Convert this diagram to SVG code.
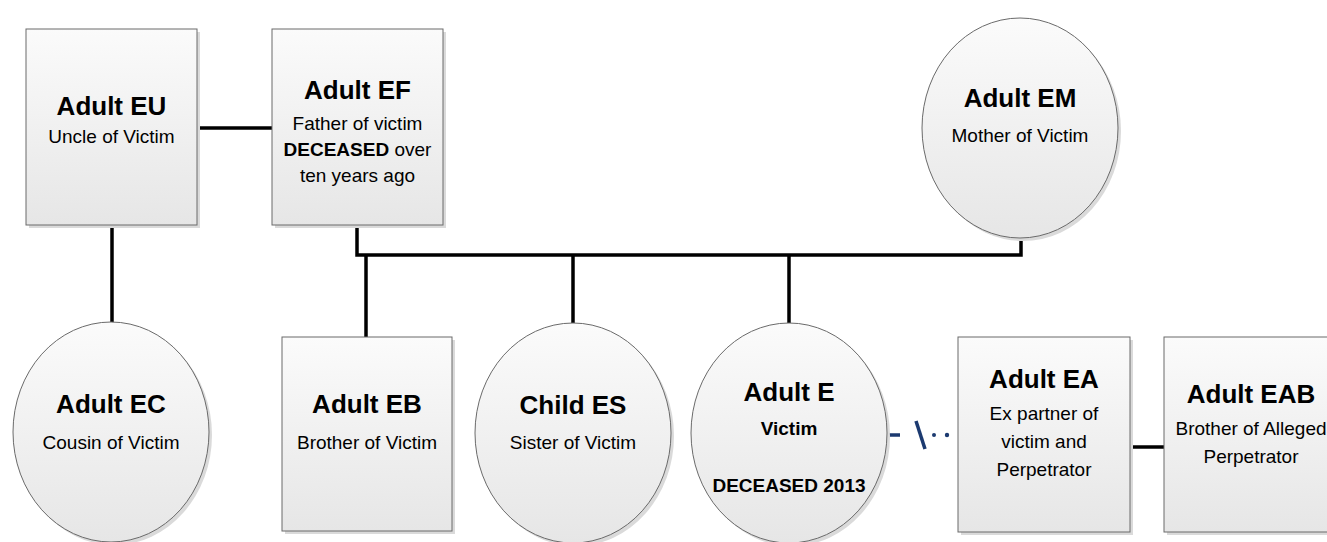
<svg xmlns="http://www.w3.org/2000/svg" width="1327" height="542" viewBox="0 0 1327 542">
<style>
.box{fill:url(#g);stroke:#6a6a6a;stroke-width:1}
.sh{fill:#dadada}
.t{font-family:"Liberation Sans",Arial,sans-serif;font-weight:bold;font-size:26px;fill:#000;text-anchor:middle}
.s{font-family:"Liberation Sans",Arial,sans-serif;font-size:19px;fill:#000;text-anchor:middle}
.b{font-weight:bold}
.c{stroke:#000;stroke-width:3.5;fill:none}
.d{stroke:#1c3a70;stroke-width:3.5;fill:none}
</style>
<defs>
<linearGradient id="g" x1="0" y1="0" x2="0" y2="1">
<stop offset="0" stop-color="#fbfbfb"/>
<stop offset="1" stop-color="#e6e6e6"/>
</linearGradient>
</defs>
<rect width="1327" height="542" fill="#fff"/>
<g id="connectors">
<path class="c" d="M197,128 H272"/>
<path class="c" d="M112,225 V323"/>
<path class="c" d="M357,225 V255 H1021 V238"/>
<path class="c" d="M366,255 V337"/>
<path class="c" d="M573,255 V323"/>
<path class="c" d="M789,255 V323"/>
<path class="c" d="M1130,447 H1164"/>
<g id="dashed">
<path class="d" d="M887,435 H900"/>
<path class="d" stroke-width="2.5" d="M916,421 L925,449"/>
<circle cx="934" cy="435" r="2" fill="#1c3a70"/>
<circle cx="947" cy="435" r="2.2" fill="#1c3a70"/>
</g>
</g>
<g id="adult-eu">
<rect class="sh" x="29" y="32" width="171" height="196"/>
<rect class="box" x="26" y="29" width="171" height="196"/>
<text class="t" x="111.5" y="115">Adult EU</text>
<text class="s" x="111.5" y="143">Uncle of Victim</text>
</g>
<g id="adult-ef">
<rect class="sh" x="275" y="32" width="171" height="196"/>
<rect class="box" x="272" y="29" width="171" height="196"/>
<text class="t" x="357.5" y="99">Adult EF</text>
<text class="s" x="357.5" y="130">Father of victim</text>
<text class="s" x="357.5" y="156"><tspan class="b">DECEASED</tspan> over</text>
<text class="s" x="357.5" y="182">ten years ago</text>
</g>
<g id="adult-em">
<ellipse class="sh" cx="1023" cy="131" rx="98" ry="110"/>
<ellipse class="box" cx="1020" cy="128" rx="98" ry="110"/>
<text class="t" x="1020" y="107">Adult EM</text>
<text class="s" x="1020" y="142">Mother of Victim</text>
</g>
<g id="adult-ec">
<ellipse class="sh" cx="114" cy="435" rx="98" ry="110"/>
<ellipse class="box" cx="111" cy="432" rx="98" ry="110"/>
<text class="t" x="111" y="413">Adult EC</text>
<text class="s" x="111" y="449">Cousin of Victim</text>
</g>
<g id="adult-eb">
<rect class="sh" x="285" y="340" width="170" height="194"/>
<rect class="box" x="282" y="337" width="170" height="194"/>
<text class="t" x="367" y="413">Adult EB</text>
<text class="s" x="367" y="449">Brother of Victim</text>
</g>
<g id="child-es">
<ellipse class="sh" cx="576" cy="436" rx="98" ry="110"/>
<ellipse class="box" cx="573" cy="433" rx="98" ry="110"/>
<text class="t" x="573" y="414">Child ES</text>
<text class="s" x="573" y="449">Sister of Victim</text>
</g>
<g id="adult-e">
<ellipse class="sh" cx="792" cy="436" rx="98" ry="110"/>
<ellipse class="box" cx="789" cy="433" rx="98" ry="110"/>
<text class="t" x="789" y="401">Adult E</text>
<text class="s b" x="789" y="435">Victim</text>
<text class="s b" x="789" y="492">DECEASED 2013</text>
</g>
<g id="adult-ea">
<rect class="sh" x="961" y="340" width="172" height="195"/>
<rect class="box" x="958" y="337" width="172" height="195"/>
<text class="t" x="1044" y="388">Adult EA</text>
<text class="s" x="1044" y="420">Ex partner of</text>
<text class="s" x="1044" y="448">victim and</text>
<text class="s" x="1044" y="476">Perpetrator</text>
</g>
<g id="adult-eab">
<rect class="sh" x="1167" y="340" width="174" height="195"/>
<rect class="box" x="1164" y="337" width="174" height="195"/>
<text class="t" x="1251" y="403">Adult EAB</text>
<text class="s" x="1251" y="435">Brother of Alleged</text>
<text class="s" x="1251" y="463">Perpetrator</text>
</g>
</svg>
